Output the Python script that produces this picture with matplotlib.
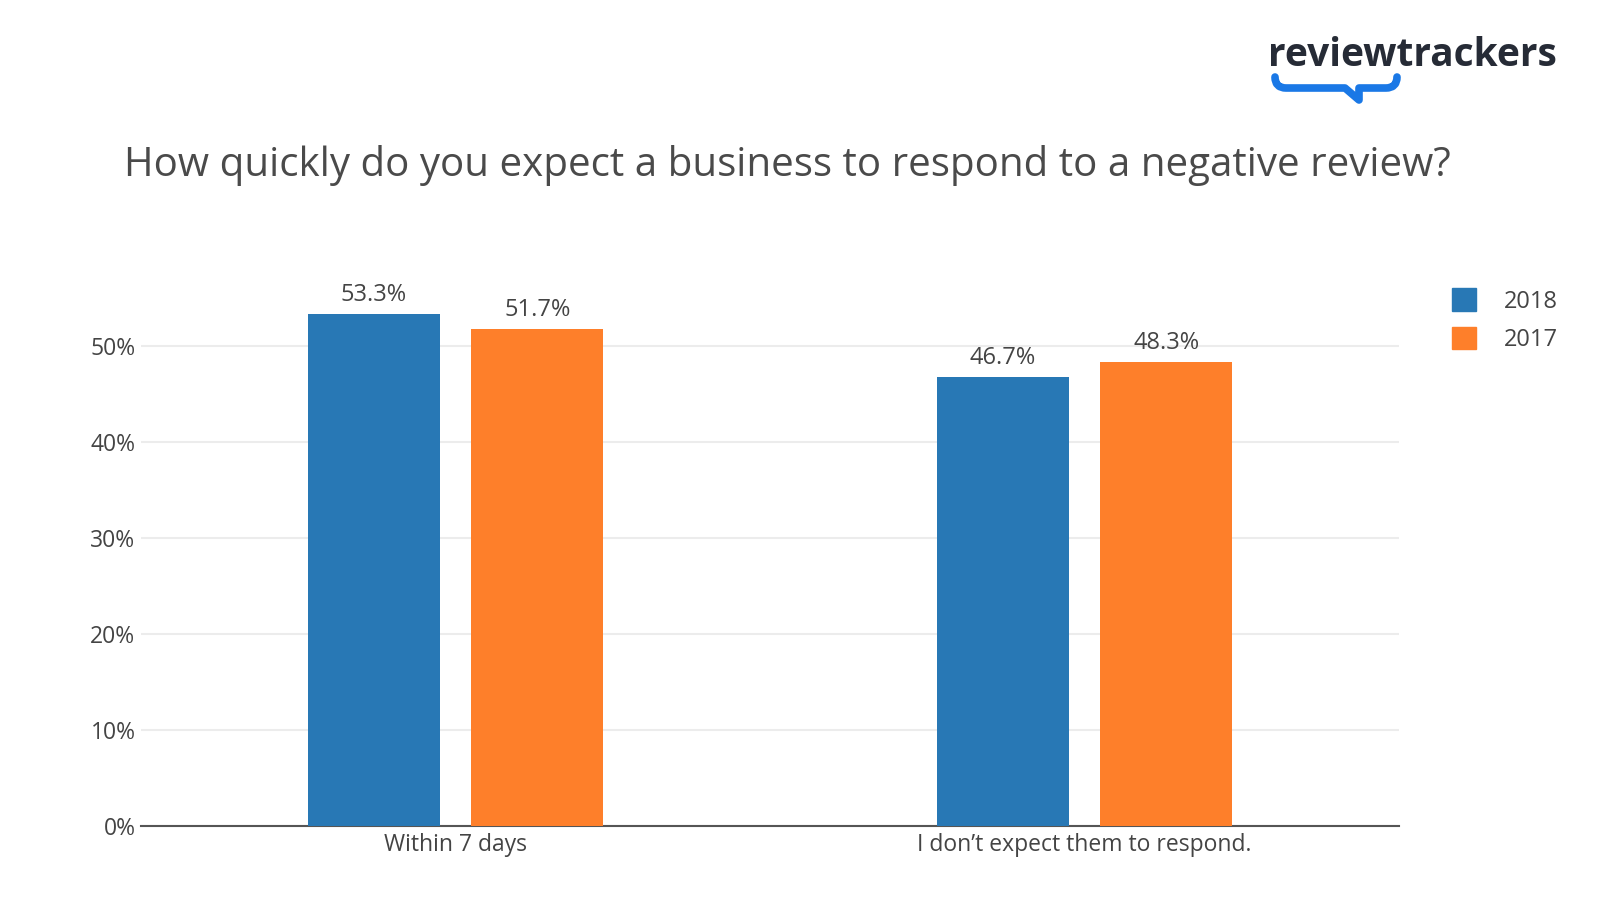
import numpy as np
import matplotlib
matplotlib.use("Agg")
import matplotlib.pyplot as plt
from matplotlib.path import Path
from matplotlib.patches import PathPatch, Patch

plt.rcParams['font.family'] = ['Open Sans', 'DejaVu Sans']

# Data
categories = ["Within 7 days", "I don\u2019t expect them to respond."]
years = ["2018", "2017"]
values_2018 = [53.3, 46.7]
values_2017 = [51.7, 48.3]
yticks = [0, 10, 20, 30, 40, 50]

blue = "#2878b5"
orange = "#fe7f2a"
text_col = "#444444"

W, H = 1598, 898
fig = plt.figure(figsize=(W / 100, H / 100), dpi=100)

# main axes, positioned in pixel terms
left, right, bottom, top_px = 141, 1399, 826, 288
ax = fig.add_axes([left / W, 1 - bottom / H, (right - left) / W, (bottom - top_px) / H])

x = np.arange(len(categories))
width = 0.21
off = 0.13
b1 = ax.bar(x - off, values_2018, width, color=blue, zorder=3)
b2 = ax.bar(x + off, values_2017, width, color=orange, zorder=3)

for bars, vals in ((b1, values_2018), (b2, values_2017)):
    for bar, v in zip(bars, vals):
        ax.text(bar.get_x() + bar.get_width() / 2, v + 0.75, f"{v}%",
                ha="center", va="bottom", fontsize=17, color=text_col)

ax.set_xlim(-0.5, 1.5)
ax.set_ylim(0, 56)
ax.set_yticks(yticks)
ax.set_yticklabels([f"{t}%" for t in yticks])
ax.set_xticks(x)
ax.set_xticklabels(categories)
ax.tick_params(axis="y", length=0, labelsize=16.5, labelcolor=text_col, pad=4)
ax.tick_params(axis="x", length=0, labelsize=16.5, labelcolor=text_col, pad=5)
ax.yaxis.grid(True, color="#ececec", linewidth=1.5, zorder=0)
ax.set_axisbelow(True)
for s in ("top", "right", "left"):
    ax.spines[s].set_visible(False)
ax.spines["bottom"].set_color("#555555")
ax.spines["bottom"].set_linewidth(1.5)

# legend
handles = [Patch(color=blue, label=years[0]), Patch(color=orange, label=years[1])]
fig.legend(handles=handles, loc="upper left", bbox_to_anchor=(1431 / W, 1 - 267 / H),
           frameon=False, fontsize=17, labelcolor=text_col,
           handlelength=1.0, handleheight=1.1, handletextpad=1.2, labelspacing=0.55)

# title
fig.text(787 / W, 1 - 165 / H,
         "How quickly do you expect a business to respond to a negative review?",
         ha="center", va="center", fontsize=29, color="#4a4a4a")

# logo
fig.text(1557 / W, 1 - 55 / H, "reviewtrackers", ha="right", va="center",
         fontsize=28, fontweight="bold", color="#262b36")

ov = fig.add_axes([0, 0, 1, 1], zorder=10)
ov.set_xlim(0, W)
ov.set_ylim(H, 0)
ov.axis("off")
ov.patch.set_alpha(0)
verts = [(1275, 77), (1275, 88), (1286, 88), (1286, 88),
         (1345, 88), (1359, 100), (1359, 88),
         (1386, 88), (1397, 88), (1397, 77)]
codes = [Path.MOVETO, Path.CURVE3, Path.CURVE3, Path.LINETO,
         Path.LINETO, Path.LINETO, Path.LINETO,
         Path.LINETO, Path.CURVE3, Path.CURVE3]
ov.add_patch(PathPatch(Path(verts, codes), fill=False, edgecolor="#1a78e6",
                       linewidth=5.5, capstyle="round", joinstyle="round"))

fig.savefig("out.png", dpi=100)
